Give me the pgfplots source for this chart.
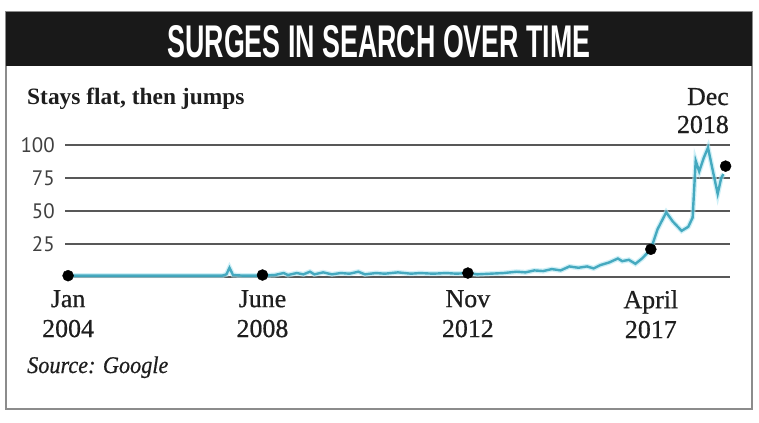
\documentclass[border=0pt]{standalone}
\usepackage{pgfplots}
\pgfplotsset{compat=1.18}
\usepackage{fontspec}
\setmainfont{Liberation Serif}
\newfontfamily\medserif[FakeBold=0.6]{Liberation Serif}
\newfontfamily\titlefont{Liberation Sans}
\newfontfamily\tickfont{PT Sans}
\definecolor{teal1}{RGB}{55,162,186}
\definecolor{halo}{RGB}{175,230,242}
\definecolor{gridc}{RGB}{88,88,88}
\definecolor{framec}{RGB}{140,140,140}
\definecolor{txt}{RGB}{30,30,30}
\pgfplotstableread{
x y
2004.00 1
2005.00 1
2006.00 1
2007.00 1
2007.50 1
2007.60 2
2007.67 7
2007.75 1.5
2008.00 1
2008.42 1
2008.70 1.5
2008.90 3
2009.00 1.5
2009.20 3
2009.35 2
2009.50 4
2009.60 2
2009.80 3.5
2010.00 2
2010.20 3
2010.40 2.5
2010.60 4
2010.75 2
2011.00 3
2011.20 2.5
2011.50 3.5
2011.80 2.5
2012.00 3
2012.30 2.5
2012.60 3
2012.83 2.5
2013.10 3
2013.30 2
2013.60 2.5
2013.90 3
2014.20 4
2014.40 3.5
2014.60 5
2014.80 4.5
2015.00 6
2015.20 5
2015.40 8
2015.60 7
2015.80 8
2015.95 6.5
2016.10 9
2016.30 11
2016.50 14
2016.60 12
2016.75 13
2016.90 10
2017.05 14
2017.25 21
2017.40 36
2017.60 49
2017.75 42
2017.95 35
2018.10 38
2018.20 45
2018.27 88
2018.35 80
2018.45 90
2018.55 98
2018.65 82
2018.77 63
2018.85 75
2018.90 78
}\trenddata
\pgfplotstableread{
x y
2004.00 1
2008.42 1.5
2013.09 3
2017.25 21
2018.95 84
}\dotdata
\begin{document}
\begin{tikzpicture}[x=1bp,y=1bp]
\path[fill=white] (0bp,0bp) rectangle (759bp,-423bp);
\draw[framec, line width=2bp, fill=white] (6bp,-12bp) rectangle (752bp,-409bp);
\fill[black!90] (6bp,-12bp) rectangle (752bp,-66bp);
\node[anchor=base, inner sep=0pt, text=white] at (379bp,-57bp)
  {\resizebox{423bp}{32bp}{\titlefont\bfseries SURGES IN SEARCH OVER TIME}};
\node[anchor=base west, inner sep=0pt, text=txt] at (27bp,-104bp)
  {\fontsize{23.5}{28}\selectfont\bfseries Stays flat, then jumps};
\node[anchor=base east, inner sep=0pt, text=txt] at (729bp,-105bp)
  {\medserif\fontsize{26}{30}\selectfont Dec};
\node[anchor=base east, inner sep=0pt, text=txt] at (729bp,-133bp)
  {\medserif\fontsize{26}{30}\selectfont 2018};
\node[anchor=base west, inner sep=0pt, text=txt] at (27bp,-373bp)
  {\scalebox{0.93}[1]{\medserif\fontsize{24}{28}\selectfont\itshape Source: Google}};
\begin{axis}[
  at={(65bp,-277bp)}, anchor=south west,
  scale only axis, width=665bp, height=132bp,
  xmin=2003.93, xmax=2019.05, ymin=0, ymax=100,
  clip=false,
  axis line style={draw=none},
  major tick length=0pt,
  xtick={2004,2008.42,2013.09,2017.25},
  xticklabels={{Jan\\2004},{June\\2008},{Nov\\2012},{April\\2017}},
  xticklabel style={anchor=north, inner sep=0pt, yshift=-13bp, align=center,
    font=\medserif\fontsize{26}{30}\selectfont, text=txt},
  ytick={0,25,50,75,100},
  yticklabels={,25,50,75,100},
  yticklabel style={anchor=east, inner sep=0pt, xshift=-10bp,
    font=\tickfont\fontsize{21}{24}\selectfont, text=black!75},
  ymajorgrids,
  grid style={gridc, line width=2bp},
]
\addplot[halo, line width=5bp, opacity=0.6] table[x=x,y=y] {\trenddata};
\addplot[teal1, line width=2.4bp, opacity=0.9] table[x=x,y=y] {\trenddata};
\addplot[only marks, mark=*, mark size=5.5bp, black] table[x=x,y=y] {\dotdata};
\end{axis}
\end{tikzpicture}
\end{document}
